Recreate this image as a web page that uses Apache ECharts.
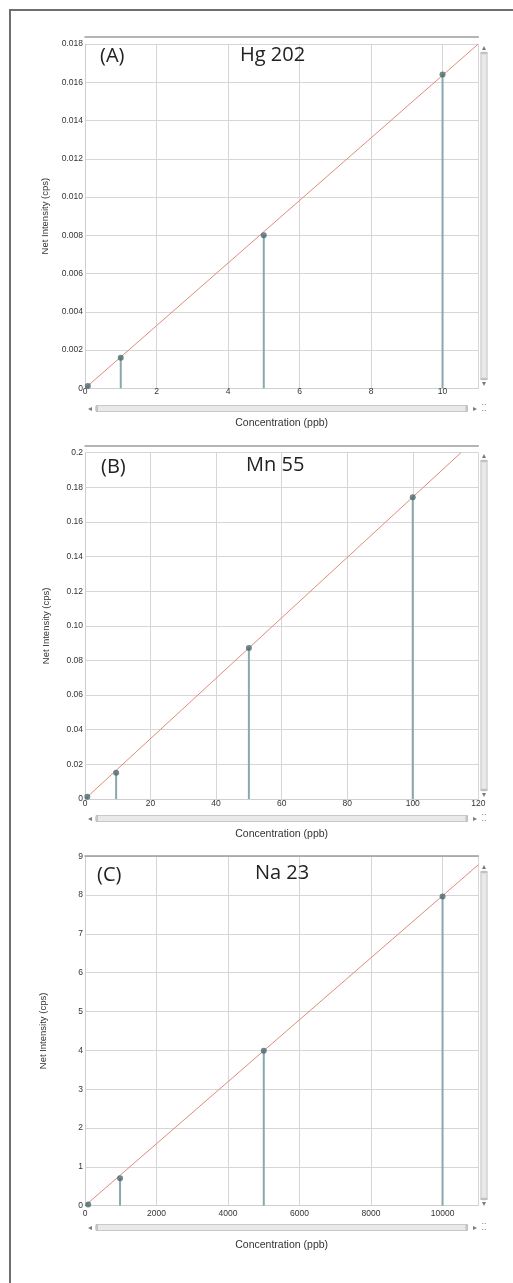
<!DOCTYPE html>
<html>
<head>
<meta charset="utf-8">
<title>Calibration curves</title>
<script src="https://cdn.jsdelivr.net/npm/echarts@6/dist/echarts.min.js"></script>
<style>
  html, body { margin: 0; padding: 0; background: #fff; }
  #chart { width: 513px; height: 1283px; }
</style>
</head>
<body>
<div id="chart"></div>
<script>
// panel (A) Hg 202
var concA = [0.08, 1, 5, 10];
var intA = [0.00012, 0.0016, 0.0080, 0.0164];
var fitA = [[0, 0], [11, 0.018]];
var xLabelsA = ['0', '2', '4', '6', '8', '10'];
var yLabelsA = ['0', '0.002', '0.004', '0.006', '0.008', '0.010', '0.012', '0.014', '0.016', '0.018'];

// panel (B) Mn 55
var concB = [0.7, 9.5, 50, 100];
var intB = [0.0013, 0.0152, 0.0872, 0.1742];
var fitB = [[0, 0], [114.7, 0.2]];
var xLabelsB = ['0', '20', '40', '60', '80', '100', '120'];
var yLabelsB = ['0', '0.02', '0.04', '0.06', '0.08', '0.10', '0.12', '0.14', '0.16', '0.18', '0.2'];

// panel (C) Na 23
var concC = [90, 980, 5000, 10000];
var intC = [0.03, 0.71, 3.99, 7.96];
var fitC = [[0, 0], [11000, 8.78]];
var xLabelsC = ['0', '2000', '4000', '6000', '8000', '10000'];
var yLabelsC = ['0', '1', '2', '3', '4', '5', '6', '7', '8', '9'];

var xTitle = 'Concentration (ppb)';
var yTitle = 'Net Intensity (cps)';

var panels = [
    { tag: '(A)', name: 'Hg 202', conc: concA, val: intA, fit: fitA, xl: xLabelsA, yl: yLabelsA,
      xmax: 11, xstep: 2, ymax: 0.018, ystep: 0.002,
      top: 44, height: 344.3, topGap: 7.3, xLabelMargin: -1, xNameGap: 29, yNameGap: 34,
      tagPos: [100, 46], namePos: [240, 45], hBar: 405, vBar: [52, 328] },
    { tag: '(B)', name: 'Mn 55', conc: concB, val: intB, fit: fitB, xl: xLabelsB, yl: yLabelsB,
      xmax: 120, xstep: 20, ymax: 0.2, ystep: 0.02,
      top: 452.7, height: 346.3, topGap: 6.7, xLabelMargin: 0, xNameGap: 30, yNameGap: 34,
      tagPos: [101, 457], namePos: [246, 455], hBar: 815, vBar: [460, 331] },
    { tag: '(C)', name: 'Na 23', conc: concC, val: intC, fit: fitC, xl: xLabelsC, yl: yLabelsC,
      xmax: 11000, xstep: 2000, ymax: 9, ystep: 1,
      top: 856.2, height: 349.5, topGap: 0, xLabelMargin: 3, xNameGap: 34, yNameGap: 37,
      tagPos: [97, 865], namePos: [255, 863], hBar: 1224, vBar: [871, 329] }
];

var gridLeft = 85, gridWidth = 393.3;
var labelFont = 'Liberation Sans';
var tickColor = '#333';
var gridColor = '#d6d6d6';
var arrowColor = '#7a7a7a';

var grids = [], xAxes = [], yAxes = [], series = [], titles = [], zooms = [], marks = [];

function pick(labels, step) {
    return function (v) {
        var i = Math.round(v / step);
        if (Math.abs(v - i * step) > step * 1e-6) return '';
        return labels[i] === undefined ? '' : labels[i];
    };
}

function glyph(ch, x, y) {
    return { type: 'text', silent: true, x: x, y: y,
             style: { text: ch, fontSize: 8, fill: arrowColor, align: 'center', verticalAlign: 'middle',
                      fontFamily: 'DejaVu Sans' } };
}

panels.forEach(function (p, i) {
    grids.push({ left: gridLeft, top: p.top, width: gridWidth, height: p.height });

    xAxes[i] = {
        type: 'value', gridIndex: i, min: 0, max: p.xmax, interval: p.xstep,
        name: xTitle, nameLocation: 'middle', nameGap: p.xNameGap,
        nameTextStyle: { fontSize: 10.5, color: '#333', fontFamily: labelFont },
        axisLine: { lineStyle: { color: '#cfcfcf' } },
        axisTick: { show: false },
        axisLabel: { fontSize: 8.5, color: tickColor, margin: p.xLabelMargin, fontFamily: labelFont,
                     formatter: pick(p.xl, p.xstep), showMaxLabel: p.xl.length * p.xstep > p.xmax },
        splitLine: { lineStyle: { color: gridColor } }
    };
    // the darker rule drawn along the top of every plot
    xAxes[i + 3] = {
        type: 'value', gridIndex: i, position: 'top', offset: p.topGap, min: 0, max: 1,
        axisLine: { show: true, lineStyle: { color: '#9c9c9c', width: 1.5 } },
        axisTick: { show: false }, axisLabel: { show: false }, splitLine: { show: false }
    };
    yAxes[i] = {
        type: 'value', gridIndex: i, min: 0, max: p.ymax, interval: p.ystep,
        name: yTitle, nameLocation: 'middle', nameGap: p.yNameGap,
        nameTextStyle: { fontSize: 9.5, color: '#333', fontFamily: labelFont },
        axisLine: { show: true, lineStyle: { color: '#cfcfcf' } },
        axisTick: { show: false },
        axisLabel: { fontSize: 8.5, color: tickColor, margin: 2, fontFamily: labelFont,
                     formatter: pick(p.yl, p.ystep) },
        splitLine: { lineStyle: { color: gridColor } }
    };

    var pts = p.conc.map(function (c, k) { return [c, p.val[k]]; });

    series.push({
        type: 'line', xAxisIndex: i, yAxisIndex: i, data: p.fit,
        symbol: 'none', silent: true, z: 2,
        lineStyle: { color: '#e2897c', width: 1 }
    });
    series.push({
        type: 'bar', xAxisIndex: i, yAxisIndex: i, data: pts,
        barWidth: 2, z: 3, itemStyle: { color: '#87a9ae' }
    });
    series.push({
        type: 'scatter', xAxisIndex: i, yAxisIndex: i, data: pts,
        symbolSize: 6, z: 4, itemStyle: { color: '#4a6a6e' }
    });

    titles.push({ text: p.tag, left: p.tagPos[0], top: p.tagPos[1], padding: 0,
                  textStyle: { fontSize: 20, fontWeight: 'normal', color: '#222', fontFamily: 'Open Sans' } });
    titles.push({ text: p.name, left: p.namePos[0], top: p.namePos[1], padding: 0,
                  textStyle: { fontSize: 20, fontWeight: 'normal', color: '#222', fontFamily: 'Open Sans' } });

    // scroll bars under and beside each plot
    var bar = {
        type: 'slider', filterMode: 'none', start: 0, end: 100, zoomLock: true,
        showDetail: false, showDataShadow: false, brushSelect: false, moveHandleSize: 0,
        backgroundColor: '#f4f4f4', fillerColor: '#e9e9e9', borderColor: '#c9c9c9',
        handleSize: '100%', handleStyle: { color: '#e2e2e2', borderColor: '#b9b9b9' }
    };
    zooms.push(Object.assign({}, bar, { xAxisIndex: i, left: 95, width: 372, top: p.hBar, height: 7 }));
    zooms.push(Object.assign({}, bar, { yAxisIndex: i, orient: 'vertical', left: 480, width: 7,
                                        top: p.vBar[0], height: p.vBar[1] }));

    // little scroll arrows and the resize grip
    var hy = p.hBar + 3.5;
    marks.push(glyph('◂', 90, hy), glyph('▸', 475, hy), glyph('⁚⁚', 484, hy));
    marks.push(glyph('▴', 484, p.vBar[0] - 4), glyph('▾', 484, p.vBar[0] + p.vBar[1] + 4));
});

marks.push({
    type: 'rect', silent: true, z: -1,
    shape: { x: 10, y: 10, width: 700, height: 1500 },
    style: { fill: 'none', stroke: '#6f6f6f', lineWidth: 2 }
});

var myChart = echarts.init(document.getElementById('chart'));
var option = {
    animation: false,
    title: titles,
    grid: grids,
    xAxis: xAxes,
    yAxis: yAxes,
    dataZoom: zooms,
    series: series,
    graphic: marks
};
myChart.setOption(option);
</script>
</body>
</html>
